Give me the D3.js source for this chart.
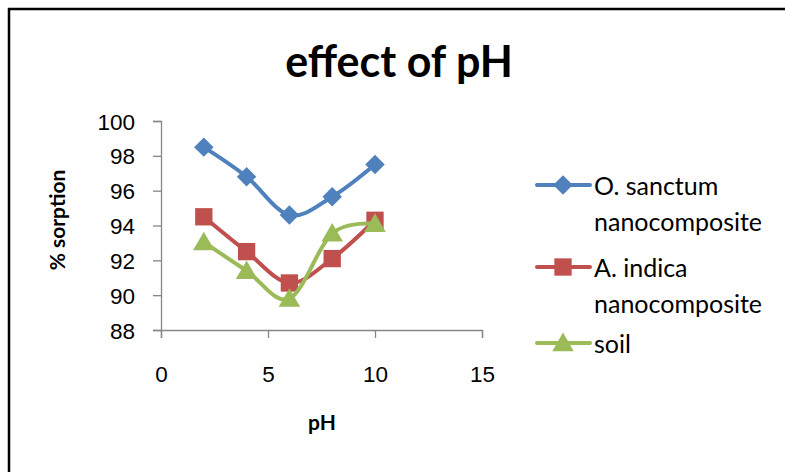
<!DOCTYPE html>
<html>
<head>
<meta charset="utf-8">
<script src="https://cdn.jsdelivr.net/npm/d3@7"></script>
<style>
  body { margin: 0; background: #fff; }
  svg { display: block; font-family: Lato, "Open Sans", sans-serif; }
</style>
</head>
<body>
<svg id="chart" width="785" height="472"></svg>
<script>
var phValues = [2, 4, 6, 8, 10];
var sanctumValues = [98.5, 96.8, 94.6, 95.65, 97.5];
var indicaValues = [94.5, 92.5, 90.7, 92.1, 94.3];
var soilValues = [93.05, 91.4, 89.8, 93.55, 94.1];
var seriesNames = [["O. sanctum", "nanocomposite"], ["A. indica", "nanocomposite"], ["soil"]];
var yTicks = [88, 90, 92, 94, 96, 98, 100];
var xTicks = [0, 5, 10, 15];

var svg = d3.select("#chart");

// outer frame (right and bottom run off the picture)
svg.append("rect")
  .attr("x", 9).attr("y", 9)
  .attr("width", 800).attr("height", 500)
  .attr("fill", "none")
  .attr("stroke", "#000")
  .attr("stroke-width", 2.5);

var x = d3.scaleLinear().domain([0, 15]).range([161, 482]);
var y = d3.scaleLinear().domain([88, 100]).range([330, 121]);

var axisColor = "#868686";

// y axis
var yAxis = svg.append("g")
  .attr("transform", "translate(161,0)")
  .call(d3.axisLeft(y).tickValues(yTicks).tickSize(8).tickPadding(18));
yAxis.select(".domain").attr("stroke", axisColor).attr("stroke-width", 1.3);
yAxis.selectAll(".tick line").attr("stroke", axisColor).attr("stroke-width", 1.3);
yAxis.selectAll(".tick text")
  .attr("fill", "#000")
  .attr("dy", "0.36em")
  .style("font-size", "22.5px");

// x axis
var xAxis = svg.append("g")
  .attr("transform", "translate(0,330)")
  .call(d3.axisBottom(x).tickValues(xTicks).tickSize(8).tickPadding(0));
xAxis.select(".domain").attr("stroke", axisColor).attr("stroke-width", 1.3);
xAxis.selectAll(".tick line").attr("stroke", axisColor).attr("stroke-width", 1.3);
xAxis.selectAll(".tick text")
  .attr("fill", "#000")
  .attr("y", 52)
  .attr("dy", 0)
  .style("font-size", "22.5px");

// title + axis titles
svg.append("text")
  .attr("x", 399).attr("y", 77)
  .attr("text-anchor", "middle")
  .style("font-size", "43px")
  .style("font-weight", "bold")
  .text("effect of pH");

svg.append("text")
  .attr("transform", "translate(65,220) rotate(-90)")
  .attr("text-anchor", "middle")
  .style("font-size", "21px")
  .style("font-weight", "bold")
  .text("% sorption");

svg.append("text")
  .attr("x", 322).attr("y", 430)
  .attr("text-anchor", "middle")
  .style("font-size", "21px")
  .style("font-weight", "bold")
  .text("pH");

// diamonds are drawn as squares turned 45 degrees, like the spreadsheet markers
var series = [
  { values: sanctumValues, color: "#4F81BD", shape: d3.symbolSquare, size: 190, rot: 45, dy: 0 },
  { values: indicaValues, color: "#C0504D", shape: d3.symbolSquare, size: 300, rot: 0, dy: 0 },
  { values: soilValues, color: "#9BBB59", shape: d3.symbolTriangle, size: 200, rot: 0, dy: 2 }
];

var line = d3.line()
  .x(function (d) { return x(d[0]); })
  .y(function (d) { return y(d[1]); })
  .curve(d3.curveCatmullRom.alpha(0));

series.forEach(function (s) {
  var pts = phValues.map(function (p, i) { return [p, s.values[i]]; });
  svg.append("path")
    .datum(pts)
    .attr("d", line)
    .attr("fill", "none")
    .attr("stroke", s.color)
    .attr("stroke-width", 4)
    .attr("stroke-linejoin", "round");
  svg.selectAll(null)
    .data(pts)
    .enter().append("path")
    .attr("d", d3.symbol().type(s.shape).size(s.size))
    .attr("transform", function (d) {
      return "translate(" + x(d[0]) + "," + (y(d[1]) + s.dy) + ") rotate(" + s.rot + ")";
    })
    .attr("fill", s.color);
});

// legend
var legendY = [185, 267, 343];
series.forEach(function (s, i) {
  var g = svg.append("g").attr("transform", "translate(0," + legendY[i] + ")");
  g.append("line")
    .attr("x1", 537).attr("x2", 590)
    .attr("stroke", s.color)
    .attr("stroke-width", 4)
    .attr("stroke-linecap", "round");
  g.append("path")
    .attr("d", d3.symbol().type(s.shape).size(s.size))
    .attr("transform", "translate(563," + s.dy + ") rotate(" + s.rot + ")")
    .attr("fill", s.color);
  var t = g.append("text")
    .attr("x", 594).attr("y", 10)
    .style("font-size", "25px");
  seriesNames[i].forEach(function (w, j) {
    t.append("tspan")
      .attr("x", 594)
      .attr("dy", j === 0 ? 0 : 36)
      .text(w);
  });
});
</script>
</body>
</html>
